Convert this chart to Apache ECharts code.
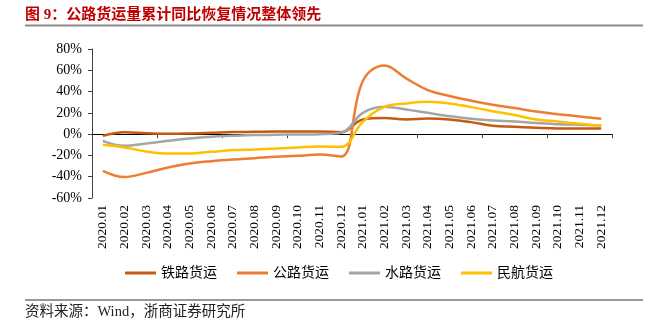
<!DOCTYPE html>
<html>
<head>
<meta charset="utf-8">
<script src="https://cdn.jsdelivr.net/npm/echarts@6/dist/echarts.min.js"></script>
<style>
html,body{margin:0;padding:0;background:#fff;}
#c{width:662px;height:329px;}
</style>
</head>
<body>
<div id="c"></div>
<script>
var categories = ['2020.01','2020.02','2020.03','2020.04','2020.05','2020.06','2020.07','2020.08','2020.09','2020.10','2020.11','2020.12',
  '2021.01','2021.02','2021.03','2021.04','2021.05','2021.06','2021.07','2021.08','2021.09','2021.10','2021.11','2021.12'];
var railFreight = [-1.6, 1.8, 0.9, 0.3, 0.6, 1.2, 1.9, 2.2, 2.5, 2.5, 2.5, 1.8, 13.8, 15.1, 13.8, 14.7, 13.8, 11.3, 7.8, 6.9, 5.9, 5.3, 5.3, 5.3];
var roadFreight = [-34.5, -40.3, -36.4, -31.4, -27.6, -25.4, -23.8, -22.6, -21.3, -20.4, -19.1, -21, 50, 64.5, 52.4, 41.4, 35.8, 31.4, 27.6, 24.5, 21.3, 18.8, 16.6, 14.4];
var waterFreight = [-6.3, -11, -8.8, -6.3, -4.1, -2.5, -1.6, -0.9, -0.6, -0.3, 0, 1.3, 20, 25.7, 23.2, 20, 16.9, 14.4, 12.9, 11.9, 10.4, 9.4, 8.8, 8.2];
var airFreight = [-10, -12.5, -16.3, -18.2, -18.2, -16.6, -15, -14.4, -13.5, -12.5, -11.6, -11.9, 11.6, 25.7, 28.9, 30.4, 28.9, 25.4, 21.6, 17.9, 13.8, 11.9, 9.7, 7.8];
var seriesNames = ['铁路货运', '公路货运', '水路货运', '民航货运'];
var yTicks = {min: -60, max: 80, interval: 20};

var colors = ['#C55A11', '#ED7D31', '#A5A5A5', '#FFC000'];
var serif = '"Liberation Serif", "Times New Roman", serif';
var cjk = '"Liberation Serif", "Noto Sans CJK SC", serif';

var chart = echarts.init(document.getElementById('c'), null, {renderer: 'canvas'});
function mk(name, data, color) {
  return {
    name: name, type: 'line', data: data, smooth: 0.4, symbol: 'none',
    xAxisIndex: 0,
    lineStyle: {color: color, width: 2.5}, itemStyle: {color: color}
  };
}
chart.setOption({
  animation: false,
  color: colors,
  grid: {left: 92, right: 50, top: 49, bottom: 131, containLabel: false},
  xAxis: [{
    type: 'category', data: categories, boundaryGap: true,
    axisLine: {onZero: true, lineStyle: {color: '#000', width: 1}},
    axisTick: {show: true, inside: false, length: 4, alignWithLabel: false, lineStyle: {color: '#404040'}},
    axisLabel: {show: false}, splitLine: {show: false}
  }, {
    type: 'category', data: categories, boundaryGap: true, position: 'bottom',
    axisLine: {show: false, onZero: false}, axisTick: {show: false},
    axisLabel: {show: true, rotate: 90, margin: 7, interval: 0, fontFamily: serif, fontSize: 13.5, color: '#000'},
    splitLine: {show: false}
  }],
  yAxis: {
    type: 'value', min: yTicks.min, max: yTicks.max, interval: yTicks.interval,
    axisLine: {show: true, lineStyle: {color: '#404040'}},
    axisTick: {show: true, length: 4, lineStyle: {color: '#404040'}},
    axisLabel: {formatter: '{value}%', fontFamily: serif, fontSize: 14, color: '#000', margin: 10},
    splitLine: {show: false}
  },
  legend: {
    data: seriesNames, bottom: 44, left: 120, icon: 'rect', itemWidth: 31, itemHeight: 3, itemGap: 20,
    textStyle: {fontFamily: cjk, fontSize: 14, color: '#000'}
  },
  series: [
    mk(seriesNames[0], railFreight, colors[0]),
    mk(seriesNames[1], roadFreight, colors[1]),
    mk(seriesNames[2], waterFreight, colors[2]),
    mk(seriesNames[3], airFreight, colors[3])
  ],
  graphic: [
    {type: 'text', left: 25, top: 8, style: {text: '图 9：公路货运量累计同比恢复情况整体领先', fontFamily: cjk, fontSize: 15, fontWeight: 'bold', fill: '#C00000'}},
    {type: 'rect', shape: {x: 25, y: 24.5, width: 618, height: 2}, style: {fill: '#8C8C8C'}},
    {type: 'rect', shape: {x: 25, y: 299.5, width: 618, height: 1}, style: {fill: '#333'}},
    {type: 'text', left: 25, top: 305, style: {text: '资料来源：Wind，浙商证券研究所', fontFamily: cjk, fontSize: 14.5, fill: '#222'}}
  ]
});
</script>
</body>
</html>
